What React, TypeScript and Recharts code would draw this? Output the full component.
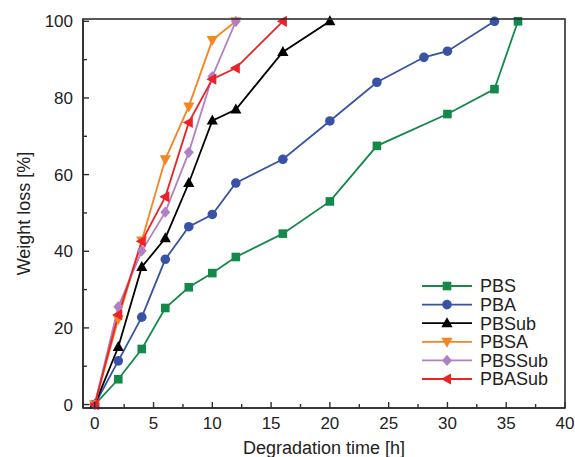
import React from 'react';
import { LineChart, Line, XAxis, YAxis, Legend } from 'recharts';

// degradation time [h] / weight loss [%] per sample
const pbsTime = [0, 2, 4, 6, 8, 10, 12, 16, 20, 24, 30, 34, 36];
const pbsLoss = [0, 6.6, 14.5, 25.2, 30.6, 34.3, 38.5, 44.6, 53, 67.5, 75.8, 82.3, 100];
const pbaTime = [0, 2, 4, 6, 8, 10, 12, 16, 20, 24, 28, 30, 34];
const pbaLoss = [0, 11.4, 22.8, 37.9, 46.4, 49.6, 57.8, 64, 74, 84.1, 90.6, 92.2, 100];
const pbsubTime = [0, 2, 4, 6, 8, 10, 12, 16, 20];
const pbsubLoss = [0, 15, 35.9, 43.4, 57.8, 74.1, 77, 92, 100];
const pbsaTime = [0, 2, 4, 6, 8, 10, 12];
const pbsaLoss = [0, 22.3, 42.8, 64, 77.8, 95.1, 100];
const pbssubTime = [0, 2, 4, 6, 8, 10, 12];
const pbssubLoss = [0, 25.5, 40.1, 50.2, 65.8, 85.6, 100];
const pbasubTime = [0, 2, 4, 6, 8, 10, 12, 16];
const pbasubLoss = [0, 23.4, 42.6, 54.2, 73.6, 84.9, 87.8, 100];

const xDomain: [number, number] = [-1, 40];
const yDomain: [number, number] = [-0.9, 100.6];
const xTicks = [0, 2.5, 5, 7.5, 10, 12.5, 15, 17.5, 20, 22.5, 25, 27.5, 30, 32.5, 35, 37.5, 40];
const yTicks = [0, 10, 20, 30, 40, 50, 60, 70, 80, 90, 100];

const FONT = '"Liberation Sans", Arial, sans-serif';
const AXIS = '#2e2e2e';
const TEXT = '#222';

// chart layout
const W = 575;
const H = 457;
const MARGIN = { top: 19, right: 10, left: 0, bottom: 0 };
const Y_AXIS_W = 83;
const X_AXIS_H = 49;

const toRows = (t: number[], v: number[]) => t.map((time, i) => ({ time, loss: v[i] }));

type Shape = 'square' | 'circle' | 'up' | 'down' | 'diamond' | 'left';

const series: { name: string; color: string; shape: Shape; data: { time: number; loss: number }[] }[] = [
    { name: 'PBS', color: '#14894a', shape: 'square', data: toRows(pbsTime, pbsLoss) },
    { name: 'PBA', color: '#3853a6', shape: 'circle', data: toRows(pbaTime, pbaLoss) },
    { name: 'PBSub', color: '#000000', shape: 'up', data: toRows(pbsubTime, pbsubLoss) },
    { name: 'PBSA', color: '#f7841f', shape: 'down', data: toRows(pbsaTime, pbsaLoss) },
    { name: 'PBSSub', color: '#b27fc4', shape: 'diamond', data: toRows(pbssubTime, pbssubLoss) },
    { name: 'PBASub', color: '#ec2227', shape: 'left', data: toRows(pbasubTime, pbasubLoss) },
];

const Marker = ({ cx, cy, shape, color }: { cx: number; cy: number; shape: Shape; color: string }) => {
    switch (shape) {
        case 'square':
            return <rect x={cx - 4.3} y={cy - 4.3} width={8.6} height={8.6} fill={color} />;
        case 'circle':
            return <circle cx={cx} cy={cy} r={4.8} fill={color} />;
        case 'up':
            return <polygon points={`${cx},${cy - 6} ${cx - 5.6},${cy + 4} ${cx + 5.6},${cy + 4}`} fill={color} />;
        case 'down':
            return <polygon points={`${cx},${cy + 6} ${cx - 5.6},${cy - 4} ${cx + 5.6},${cy - 4}`} fill={color} />;
        case 'diamond':
            return <polygon points={`${cx},${cy - 5.6} ${cx + 5},${cy} ${cx},${cy + 5.6} ${cx - 5},${cy}`} fill={color} />;
        default:
            return <polygon points={`${cx - 6},${cy} ${cx + 4},${cy - 5.6} ${cx + 4},${cy + 5.6}`} fill={color} />;
    }
};

const XTick = (props: any) => {
    const { x, y, payload } = props;
    const major = payload.value % 5 === 0;
    return (
        <g>
            <line x1={x} x2={x} y1={y} y2={y - (major ? 6 : 4)} stroke={AXIS} strokeWidth={1.4} />
            {major && (
                <text x={x} y={y + 21} textAnchor="middle" fontSize={17} fontFamily={FONT} fill={TEXT}>
                    {payload.value}
                </text>
            )}
        </g>
    );
};

const YTick = (props: any) => {
    const { x, y, payload } = props;
    const major = payload.value % 20 === 0;
    return (
        <g>
            <line x1={x} x2={x + (major ? 6 : 4)} y1={y} y2={y} stroke={AXIS} strokeWidth={1.4} />
            {major && (
                <text x={x - 10} y={y} dy="0.36em" textAnchor="end" fontSize={17} fontFamily={FONT} fill={TEXT}>
                    {payload.value}
                </text>
            )}
        </g>
    );
};

// legend follows the series order, not the library's sorted payload
const LegendBox = () => (
    <svg width={150} height={120}>
        {series.map((s, i) => {
            const cy = 10 + i * 18.6;
            return (
                <g key={s.name}>
                    <line x1={2} x2={52} y1={cy} y2={cy} stroke={s.color} strokeWidth={1.8} />
                    <Marker cx={27} cy={cy} shape={s.shape} color={s.color} />
                    <text x={60} y={cy} dy="0.36em" fontSize={18} fontFamily={FONT} fill={TEXT}>
                        {s.name}
                    </text>
                </g>
            );
        })}
    </svg>
);

export default function App() {
    // plot box, derived from the same margins / axis sizes given to the chart
    const plotX = MARGIN.left + Y_AXIS_W;
    const plotY = MARGIN.top;
    const plotW = W - MARGIN.right - plotX;
    const plotH = H - MARGIN.bottom - X_AXIS_H - plotY;

    return (
        <div style={{ position: 'absolute', left: 0, top: 0, width: W, height: H, background: '#fff' }}>
            <LineChart width={W} height={H} margin={MARGIN}>
                <XAxis
                    dataKey="time"
                    type="number"
                    domain={xDomain}
                    ticks={xTicks}
                    interval={0}
                    tickSize={0}
                    tickMargin={0}
                    tickLine={false}
                    tick={<XTick />}
                    height={X_AXIS_H}
                    axisLine={{ stroke: AXIS, strokeWidth: 1.6 }}
                    label={{ value: 'Degradation time [h]', position: 'insideBottom', offset: 3, fontSize: 18, fontFamily: FONT, fill: TEXT }}
                />
                <YAxis
                    type="number"
                    domain={yDomain}
                    ticks={yTicks}
                    interval={0}
                    tickSize={0}
                    tickMargin={0}
                    tickLine={false}
                    tick={<YTick />}
                    width={Y_AXIS_W}
                    axisLine={{ stroke: AXIS, strokeWidth: 1.6 }}
                    label={{ value: 'Weight loss [%]', angle: -90, position: 'insideLeft', offset: 24, fontSize: 18, fontFamily: FONT, fill: TEXT, style: { textAnchor: 'middle' } }}
                />
                <Legend
                    layout="horizontal"
                    verticalAlign="middle"
                    align="center"
                    content={<LegendBox />}
                    wrapperStyle={{ position: 'absolute', left: 420, top: 276, width: 150, height: 120 }}
                />
                {series.map((s) => (
                    <Line
                        key={s.name}
                        data={s.data}
                        dataKey="loss"
                        name={s.name}
                        stroke={s.color}
                        strokeWidth={1.8}
                        isAnimationActive={false}
                        dot={(p: any) => <Marker key={`${s.name}-${p.index}`} cx={p.cx} cy={p.cy} shape={s.shape} color={s.color} />}
                        activeDot={false}
                    />
                ))}
            </LineChart>
            {/* closed frame around the plot area */}
            <svg
                width={W}
                height={H}
                style={{ position: 'absolute', left: 0, top: 0, pointerEvents: 'none' }}
            >
                <rect x={plotX} y={plotY} width={plotW} height={plotH} fill="none" stroke={AXIS} strokeWidth={1.6} />
            </svg>
        </div>
    );
}
